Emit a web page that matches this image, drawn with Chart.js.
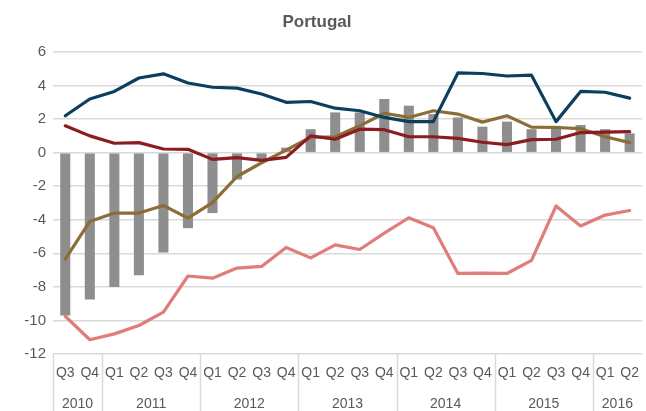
<!DOCTYPE html>
<html>
<head>
<meta charset="utf-8">
<script src="https://cdn.jsdelivr.net/npm/chart.js@4.4.1/dist/chart.umd.min.js"></script>
<style>
  html, body { margin: 0; padding: 0; background: #fff; overflow: hidden; }
  #wrap { width: 650px; height: 411px; }
</style>
</head>
<body>
<div id="wrap"><canvas id="c" width="650" height="411"></canvas></div>
<script>
// Quarterly figures, Q3 2010 – Q2 2016
const quarters = ['Q3','Q4','Q1','Q2','Q3','Q4','Q1','Q2','Q3','Q4','Q1','Q2','Q3','Q4',
                  'Q1','Q2','Q3','Q4','Q1','Q2','Q3','Q4','Q1','Q2'];
const years = [
  { label: '2010', count: 2 },
  { label: '2011', count: 4 },
  { label: '2012', count: 4 },
  { label: '2013', count: 4 },
  { label: '2014', count: 4 },
  { label: '2015', count: 4 },
  { label: '2016', count: 2 }
];
const barValues = [-9.7, -8.75, -8.0, -7.3, -5.95, -4.5, -3.6, -1.6, -0.4, 0.3,
                   1.4, 2.4, 2.4, 3.2, 2.8, 2.3, 2.1, 1.55, 1.85, 1.4, 1.6, 1.65, 1.4, 1.15];
const navyValues = [2.2, 3.2, 3.65, 4.45, 4.7, 4.15, 3.9, 3.85, 3.5, 3.0,
                    3.05, 2.65, 2.5, 2.1, 1.85, 1.85, 4.75, 4.72, 4.57, 4.62, 1.85, 3.65, 3.6, 3.25];
const brownValues = [-6.35, -4.1, -3.6, -3.6, -3.15, -3.9, -2.98, -1.42, -0.6, 0.15,
                     0.92, 0.95, 1.6, 2.35, 2.1, 2.5, 2.3, 1.82, 2.2, 1.52, 1.5, 1.43, 0.95, 0.6];
const redValues = [1.6, 1.0, 0.56, 0.6, 0.22, 0.2, -0.4, -0.3, -0.46, -0.28,
                   1.0, 0.8, 1.4, 1.37, 0.95, 0.95, 0.85, 0.62, 0.48, 0.78, 0.8, 1.2, 1.22, 1.25];
const salmonValues = [-9.75, -11.15, -10.8, -10.3, -9.5, -7.35, -7.48, -6.88, -6.78, -5.65,
                      -6.27, -5.5, -5.77, -4.8, -3.88, -4.47, -7.2, -7.18, -7.2, -6.42, -3.18, -4.37, -3.72, -3.45];
const yTicks = [-12, -10, -8, -6, -4, -2, 0, 2, 4, 6];

const textGrey = '#595959';
const ruleGrey = '#d9d9d9';
const narrow = '"Liberation Sans Narrow", "Liberation Sans", Arial, sans-serif';

// Title and the two-level category axis (quarter row + year row with dividers)
const decorations = {
  id: 'decorations',
  afterDraw(chart) {
    const ctx = chart.ctx;
    const x = chart.scales.x;
    const area = chart.chartArea;
    const half = (x.getPixelForValue(1) - x.getPixelForValue(0)) / 2;
    ctx.save();
    ctx.fillStyle = textGrey;
    ctx.font = 'bold 17px ' + narrow;
    ctx.textAlign = 'center';
    ctx.textBaseline = 'middle';
    ctx.fillText('Portugal', 317, 22);

    ctx.strokeStyle = ruleGrey;
    ctx.lineWidth = 1.5;
    ctx.font = '14px ' + narrow;
    let start = 0;
    years.forEach((y) => {
      const left = x.getPixelForValue(start) - half;
      const right = x.getPixelForValue(start + y.count - 1) + half;
      ctx.beginPath();
      ctx.moveTo(Math.round(left) + 0.5, area.bottom);
      ctx.lineTo(Math.round(left) + 0.5, chart.height);
      ctx.stroke();
      ctx.fillText(y.label, (left + right) / 2, 404);
      start += y.count;
    });
    ctx.restore();
  }
};

new Chart(document.getElementById('c'), {
  type: 'bar',
  data: {
    labels: quarters,
    datasets: [
      { type: 'line', data: navyValues, borderColor: '#0c3f5e', borderWidth: 3.2, order: 1 },
      { type: 'line', data: redValues, borderColor: '#8b1c22', borderWidth: 3.2, order: 2 },
      { type: 'line', data: brownValues, borderColor: '#8d6d36', borderWidth: 3.2, order: 3 },
      { type: 'line', data: salmonValues, borderColor: '#e07c79', borderWidth: 3.2, order: 4 },
      { type: 'bar', data: barValues, backgroundColor: '#8e8e8e', order: 10,
        barPercentage: 0.41, categoryPercentage: 1 }
    ]
  },
  options: {
    responsive: false,
    animation: false,
    events: [],
    layout: { padding: { top: 52, right: 0, left: 0, bottom: 0 } },
    elements: {
      line: { tension: 0, fill: false, borderJoinStyle: 'round', borderCapStyle: 'round' },
      point: { radius: 0 }
    },
    plugins: {
      legend: { display: false },
      title: { display: false },
      tooltip: { enabled: false }
    },
    scales: {
      x: {
        offset: true,
        grid: { display: false, drawTicks: false },
        border: { display: false },
        ticks: { color: textGrey, font: { family: narrow, size: 14 }, padding: 11,
                 maxRotation: 0, autoSkip: false },
        afterFit(scale) { scale.height = 57; }
      },
      y: {
        min: -12, max: 6,
        afterBuildTicks(scale) { scale.ticks = yTicks.map(v => ({ value: v })); },
        grid: { color: ruleGrey, lineWidth: 1.5, drawTicks: false },
        border: { display: false },
        ticks: { color: textGrey, font: { family: narrow, size: 15 }, padding: 7 },
        afterFit(scale) { scale.width = 53; }
      }
    }
  },
  plugins: [decorations]
});
</script>
</body>
</html>
